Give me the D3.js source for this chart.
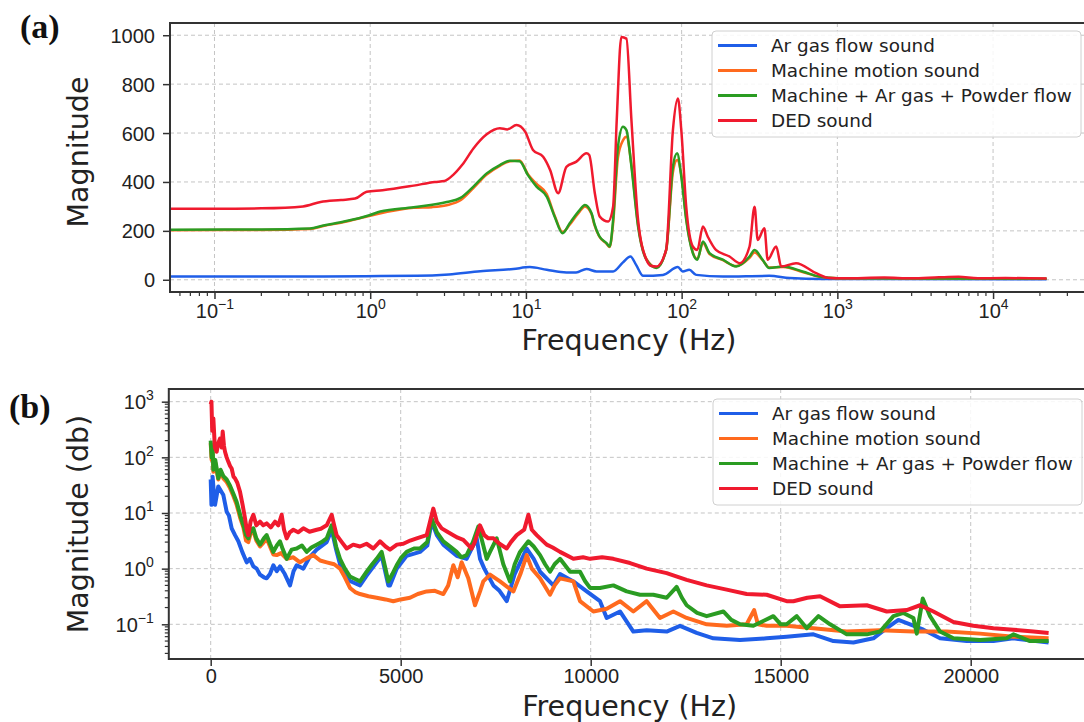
<!DOCTYPE html>
<html>
<head>
<meta charset="utf-8">
<script src="https://cdn.jsdelivr.net/npm/d3@7"></script>
<style>
  body { margin: 0; background: #fff; }
  svg { display: block; font-family: "DejaVu Sans", sans-serif; }
</style>
</head>
<body>
<div id="chart"></div>
<script>
const seriesNames = ['Ar gas flow sound', 'Machine motion sound', 'Machine + Ar gas + Powder flow', 'DED sound'];
const seriesColors = ['#1f5ee8', '#ff6a1e', '#2a9c22', '#f01a2e'];

// panel (a): [frequency Hz, magnitude]
const argasA = [[0.0518,13],[0.5,13],[1.16,15],[2,16],[3.2,22],[5.1,35],[8.3,44],[10.6,52],[13.6,41],[18.2,30],[21,30],[24.5,44],[28.4,34],[36.3,34],[42,71],[46.9,95],[51,61],[56.6,16],[75.9,20],[94.6,52],[101.6,34],[112,41],[124,20],[184,13],[365,16],[494,7],[800,3],[2000,3],[22050,2]];
const machineA = [[0.0518,203],[0.2,204],[0.41,208],[0.5,220],[0.68,236],[1.0,262],[1.9,294],[2.5,297],[3.1,305],[3.8,325],[4.6,375],[5.6,430],[6.8,466],[7.9,485],[9.1,488],[10.3,432],[11.7,392],[13.6,350],[15.3,262],[17.2,195],[19.1,225],[22.2,280],[23.9,300],[26.4,268],[27.5,225],[29.5,178],[32.9,148],[34.5,134],[36.3,230],[39,500],[42,570],[44.2,585],[47.6,470],[52.5,225],[59.4,85],[68.9,50],[79.5,120],[87.9,440],[93.5,490],[99.5,430],[107,250],[118,112],[126,85],[137,150],[151,105],[184,80],[224,56],[273,90],[294,112],[331,80],[365,50],[449,52],[597,32],[766,12],[1000,6],[2000,6],[5000,5],[22050,4]];
const mixA = [[0.0518,205],[0.2,206],[0.41,210],[0.5,222],[0.68,238],[1.0,265],[1.16,279],[1.9,297],[3.1,318],[3.8,335],[4.6,381],[5.6,435],[6.8,469],[7.9,487],[9.1,485],[10.3,428],[11.7,381],[13.6,340],[15.3,258],[17.2,190],[19.1,231],[22.2,286],[23.9,306],[26.4,272],[27.5,230],[29.5,180],[32.9,150],[34.5,136],[36.3,245],[39,544],[42,626],[44.2,612],[47.6,463],[52.5,218],[59.4,82],[68.9,48],[79.5,122],[87.9,463],[93.5,517],[99.5,422],[107,245],[118,109],[126,82],[137,156],[151,109],[184,82],[224,54],[273,95],[294,122],[331,82],[365,48],[449,54],[597,34],[766,13],[1000,6],[2000,6],[5000,5],[22050,4]];
const dedA = [[0.0518,290],[0.1,290],[0.2,292],[0.37,300],[0.48,318],[0.65,326],[0.8,332],[0.95,360],[1.2,366],[1.9,385],[2.6,400],[3.0,404],[3.4,428],[3.9,470],[4.6,537],[5.6,595],[6.8,620],[7.6,615],[8.7,633],[9.9,605],[11.1,531],[12.9,503],[14.3,449],[16.1,354],[18.2,462],[21.1,483],[24.5,517],[25.5,510],[27.7,354],[29.8,258],[33.7,238],[36.3,299],[38.3,653],[41,993],[44.2,986],[47.6,653],[52.5,245],[59.4,82],[64,56],[68.9,54],[79.5,122],[87.9,612],[94.6,741],[99.5,612],[107,299],[118,136],[126,122],[137,218],[147,177],[166,122],[203,95],[236,68],[273,136],[294,299],[308,163],[340,211],[357,82],[405,136],[436,54],[543,68],[731,27],[891,7],[1100,6],[2000,9],[3000,6],[4500,10],[6000,12],[8000,6],[12000,7],[22050,5]];

// panel (b): [frequency Hz, magnitude]
const argasB = [[0,40],[20,14],[50,45],[90,20],[114,14],[200,30],[333,21],[421,10.5],[480,9],[552,5.3],[640,4],[728,3.1],[830,2],[947,1.3],[1030,1.5],[1123,1.1],[1210,1],[1298,0.78],[1400,0.7],[1473,0.67],[1560,0.8],[1649,1.15],[1740,0.9],[1824,1.1],[1950,0.8],[2087,0.5],[2180,0.9],[2263,1.15],[2438,1.0],[2600,1.6],[2789,2.2],[3052,3],[3184,5],[3300,2.2],[3403,1.2],[3666,0.6],[3929,0.5],[4104,0.75],[4367,1.3],[4499,1.7],[4674,0.5],[4718,0.5],[4894,1],[5157,1.7],[5508,2],[5700,2.6],[5815,7],[5950,4],[6122,2.7],[6472,1.7],[6735,1.5],[7000,3.5],[7088,1.5],[7200,1.0],[7439,0.5],[7600,0.4],[7790,0.26],[8000,0.8],[8316,2.3],[8500,1.5],[8667,0.88],[9018,0.5],[9193,0.8],[9544,0.59],[9895,0.39],[10245,0.26],[10421,0.13],[10771,0.17],[11122,0.074],[11473,0.078],[11999,0.074],[12350,0.094],[12788,0.07],[13227,0.056],[13929,0.052],[14630,0.056],[15156,0.06],[15861,0.066],[16387,0.05],[16913,0.047],[17439,0.056],[17790,0.085],[18097,0.12],[18405,0.1],[18755,0.08],[19193,0.056],[19895,0.05],[20597,0.05],[21123,0.056],[22050,0.047]];
const machineB = [[0,180],[25,90],[50,130],[70,55],[120,80],[200,40],[260,55],[333,42],[420,36],[509,28],[600,20],[684,14],[780,8],[860,5.5],[930,3.2],[991,3],[1060,4.5],[1123,4.8],[1200,3.2],[1298,2.5],[1400,3],[1473,3.5],[1560,2.5],[1649,1.8],[1736,1.75],[1850,1.9],[2000,1.5],[2175,1.6],[2350,1.3],[2500,1.5],[2701,1.75],[2880,1.4],[3052,1.3],[3250,1.2],[3403,1.0],[3530,0.7],[3666,0.45],[3800,0.38],[3929,0.35],[4150,0.32],[4367,0.3],[4600,0.28],[4806,0.26],[5000,0.28],[5245,0.3],[5450,0.35],[5683,0.39],[5900,0.4],[6122,0.35],[6250,0.5],[6385,1.15],[6500,0.7],[6604,1.3],[6779,0.67],[6955,0.22],[7088,0.39],[7174,0.59],[7351,0.78],[7614,0.59],[7965,0.39],[8150,0.8],[8316,1.75],[8450,1.0],[8667,0.67],[8930,0.34],[9050,0.5],[9193,0.67],[9544,0.59],[9719,0.26],[10070,0.17],[10421,0.19],[10771,0.26],[11122,0.17],[11473,0.26],[11824,0.13],[12175,0.17],[12525,0.13],[13052,0.1],[13578,0.094],[14104,0.1],[14300,0.18],[14400,0.1],[14630,0.094],[15156,0.094],[15861,0.085],[16738,0.074],[17615,0.078],[18492,0.074],[19369,0.074],[20246,0.068],[21123,0.06],[22050,0.056]];
const mixB = [[0,200],[25,100],[50,150],[70,60],[120,90],[200,42],[260,60],[333,46],[420,40],[509,31],[600,22],[684,15.8],[780,9],[860,6],[930,4],[991,3.5],[1060,5],[1123,5.3],[1200,3.5],[1298,2.7],[1400,3.5],[1473,4],[1560,2.8],[1649,2],[1740,2.6],[1824,3.1],[1900,2.2],[2000,1.5],[2130,2.2],[2263,2.3],[2400,2.6],[2526,2],[2650,2.4],[2789,2.7],[2920,3],[3052,3.5],[3184,6],[3300,2.5],[3403,1.5],[3530,1],[3666,0.72],[3800,0.65],[3929,0.59],[4104,0.88],[4250,1.2],[4367,1.5],[4499,2],[4600,1],[4674,0.59],[4780,0.8],[4894,1.15],[5020,1.6],[5157,2],[5350,2.3],[5508,2.3],[5700,3],[5815,8],[5950,4.5],[6122,3.1],[6300,2.5],[6472,2],[6600,1.6],[6735,1.75],[6900,3],[7042,5.7],[7150,3],[7263,1.5],[7350,2],[7527,3.5],[7700,1.2],[7877,0.59],[8000,1.2],[8140,2],[8360,3.1],[8500,2.5],[8667,1.75],[8800,1.2],[8930,0.88],[9050,1.2],[9193,1.5],[9456,0.88],[9719,0.88],[9850,0.6],[9982,0.45],[10245,0.45],[10596,0.5],[10947,0.39],[11297,0.34],[11648,0.34],[11999,0.3],[12262,0.47],[12400,0.3],[12525,0.22],[12800,0.16],[13052,0.14],[13490,0.17],[13700,0.12],[13929,0.1],[14280,0.094],[14806,0.14],[15000,0.1],[15156,0.1],[15423,0.14],[15686,0.085],[15993,0.14],[16300,0.1],[16738,0.066],[17264,0.066],[17615,0.074],[17966,0.14],[18229,0.16],[18492,0.13],[18580,0.068],[18738,0.29],[18930,0.14],[19193,0.074],[19544,0.056],[20246,0.052],[20947,0.056],[21123,0.066],[21561,0.05],[22050,0.05]];
const dedB = [[0,900],[20,1000],[40,300],[70,500],[110,150],[158,126],[200,180],[246,218],[290,150],[316,290],[350,160],[377,126],[420,100],[465,83],[510,70],[552,63],[600,45],[640,42],[700,35],[772,24],[840,14],[903,8],[950,5],[991,4],[1050,7],[1123,9.3],[1200,6],[1298,7],[1380,6],[1473,6.5],[1580,5.5],[1693,7],[1780,6],[1868,9.3],[1930,5],[2000,3.5],[2080,4.5],[2175,5],[2300,4.5],[2438,5.3],[2600,4.6],[2789,5],[2900,5.2],[3052,6],[3184,9.3],[3250,6],[3315,4],[3450,3],[3578,2.3],[3750,2.7],[3929,2.5],[4100,2.8],[4280,2.3],[4455,3.1],[4600,2.5],[4718,2.2],[4900,2.7],[5069,2.8],[5250,3.2],[5420,3.5],[5683,4],[5858,12],[5950,7],[6078,5.3],[6250,4.5],[6385,4],[6500,3.6],[6648,3.3],[6867,2.3],[6950,3],[7086,6],[7200,4],[7305,3.5],[7439,3.5],[7600,2.8],[7790,2.3],[7900,3],[8053,4],[8250,5],[8360,9.3],[8450,5],[8579,4],[8842,2.7],[9000,2.4],[9193,2],[9544,1.5],[9800,1.6],[9982,1.5],[10300,1.6],[10596,1.5],[11035,1.26],[11473,1.0],[11999,0.83],[12525,0.63],[13052,0.5],[13578,0.42],[14104,0.35],[14630,0.34],[15156,0.26],[15335,0.26],[15700,0.3],[16036,0.32],[16563,0.21],[17264,0.22],[17790,0.17],[18317,0.18],[18668,0.22],[19018,0.17],[19544,0.11],[20070,0.094],[20597,0.085],[21123,0.08],[21649,0.074],[22050,0.07]];

const xTicksA = [0.1, 1, 10, 100, 1000, 10000];
const yTicksA = [0, 200, 400, 600, 800, 1000];
const xTicksB = [0, 5000, 10000, 15000, 20000];
const yTicksB = [0.1, 1, 10, 100, 1000];

const W = 1084, H = 722;
const svg = d3.select('#chart').append('svg').attr('width', W).attr('height', H);

const tickFont = 20, labelFont = 28.5, legendFont = 18.4;
const axisColor = '#333', textColor = '#222';

// power-of-ten label: "10" with superscript exponent
function powLabel(sel, v) {
    const e = Math.round(Math.log10(v));
    sel.text('10');
    sel.append('tspan').attr('font-size', 14).attr('dy', -9)
        .text(e < 0 ? '\u2212' + (-e) : e);
}

function minorLogValues(domain) {
    const out = [];
    for (let d = -3; d <= 5; d++) {
        for (let m = 2; m <= 9; m++) {
            const v = m * Math.pow(10, d);
            if (v > domain[0] && v < domain[1]) out.push(v);
        }
    }
    return out;
}

function drawPanel(p) {
    const { x, y, id } = p;
    const [x0, x1] = x.range();
    const [y1, y0] = y.range();
    const g = svg.append('g');

    g.append('clipPath').attr('id', id)
        .append('rect').attr('x', x0).attr('y', y0).attr('width', x1 - x0).attr('height', y1 - y0);

    // grid
    g.append('g').selectAll('line').data(p.xTicks).enter().append('line')
        .attr('x1', d => x(d)).attr('x2', d => x(d)).attr('y1', y0).attr('y2', y1)
        .attr('stroke', '#c4c4c4').attr('stroke-width', 1).attr('stroke-dasharray', '4,3');
    g.append('g').selectAll('line').data(p.yTicks).enter().append('line')
        .attr('x1', x0).attr('x2', x1).attr('y1', d => y(d)).attr('y2', d => y(d))
        .attr('stroke', '#c4c4c4').attr('stroke-width', 1).attr('stroke-dasharray', '4,3');

    // lines
    const line = d3.line().x(d => x(d[0])).y(d => y(d[1])).curve(p.curve);
    const lines = g.append('g').attr('clip-path', `url(#${id})`);
    p.series.forEach((s, i) => {
        lines.append('path').datum(s)
            .attr('d', line)
            .attr('fill', 'none')
            .attr('stroke', seriesColors[i])
            .attr('stroke-width', p.lineWidth)
            .attr('stroke-linejoin', 'round');
    });

    // axes
    const xAxis = d3.axisBottom(x).tickValues(p.xTicks).tickSize(7).tickSizeOuter(0).tickFormat('');
    const yAxis = d3.axisLeft(y).tickValues(p.yTicks).tickSize(7).tickSizeOuter(0).tickFormat('');
    const gx = g.append('g').attr('transform', `translate(0,${y1})`).call(xAxis);
    const gy = g.append('g').attr('transform', `translate(${x0},0)`).call(yAxis);
    [gx, gy].forEach(a => {
        a.select('.domain').remove();
        a.selectAll('.tick line').attr('stroke', axisColor).attr('stroke-width', 1.5);
    });

    if (p.xMinor) {
        gx.selectAll('.minor').data(minorLogValues(x.domain())).enter().append('line')
            .attr('x1', d => x(d)).attr('x2', d => x(d)).attr('y1', 0).attr('y2', 4)
            .attr('stroke', axisColor).attr('stroke-width', 1.2);
    }
    if (p.yMinor) {
        gy.selectAll('.minor').data(minorLogValues(y.domain())).enter().append('line')
            .attr('y1', d => y(d)).attr('y2', d => y(d)).attr('x1', 0).attr('x2', -4)
            .attr('stroke', axisColor).attr('stroke-width', 1.2);
    }

    // tick labels
    gx.selectAll('.tick').each(function (d) {
        const t = d3.select(this).append('text')
            .attr('x', 0).attr('y', p.xLabelY)
            .attr('text-anchor', 'middle')
            .attr('font-size', tickFont).attr('fill', textColor);
        if (p.xPow) powLabel(t, d); else t.text(d);
    });
    gy.selectAll('.tick').each(function (d) {
        const t = d3.select(this).append('text')
            .attr('x', -15).attr('y', 7)
            .attr('text-anchor', 'end')
            .attr('font-size', tickFont).attr('fill', textColor);
        if (p.yPow) powLabel(t, d); else t.text(d);
    });

    // frame
    g.append('rect').attr('x', x0).attr('y', y0).attr('width', x1 - x0).attr('height', y1 - y0)
        .attr('fill', 'none').attr('stroke', axisColor).attr('stroke-width', 2);

    // axis titles
    g.append('text').attr('x', (x0 + x1) / 2).attr('y', p.xTitleY)
        .attr('text-anchor', 'middle').attr('font-size', labelFont).attr('fill', textColor)
        .text('Frequency (Hz)');
    g.append('text')
        .attr('transform', `translate(88,${p.yTitleCY}) rotate(-90)`)
        .attr('text-anchor', 'middle').attr('font-size', labelFont).attr('fill', textColor)
        .text(p.yTitle);

    // legend
    const lg = g.append('g').attr('transform', `translate(${p.legend[0]},${p.legend[1]})`);
    lg.append('rect').attr('x', 0).attr('y', 0).attr('width', 369).attr('height', 106)
        .attr('rx', 4).attr('fill', '#fff').attr('fill-opacity', 0.85)
        .attr('stroke', '#d0d0d0').attr('stroke-width', 1);
    seriesNames.forEach((n, i) => {
        const cy = 14.5 + i * 25;
        lg.append('line').attr('x1', 6).attr('x2', 45).attr('y1', cy).attr('y2', cy)
            .attr('stroke', seriesColors[i]).attr('stroke-width', 3);
        lg.append('text').attr('x', 59).attr('y', cy + 6.5)
            .attr('font-size', legendFont).attr('fill', textColor).text(n);
    });

    // panel letter
    svg.append('text').attr('x', p.letter[0]).attr('y', p.letter[1])
        .attr('font-family', '"Liberation Serif", "DejaVu Serif", serif')
        .attr('font-weight', 'bold').attr('font-size', 34).attr('fill', '#111')
        .text(p.letterText);
}

drawPanel({
    id: 'clipA',
    x: d3.scaleLog().domain([0.0518, 40700]).range([170, 1088]),
    y: d3.scaleLinear().domain([-50, 1050]).range([292, 23]),
    xTicks: xTicksA, yTicks: yTicksA,
    xPow: true, yPow: false, xMinor: true, yMinor: false,
    series: [argasA, machineA, mixA, dedA],
    lineWidth: 2.5, curve: d3.curveMonotoneX,
    xLabelY: 26, xTitleY: 350,
    yTitle: 'Magnitude', yTitleCY: 152,
    legend: [712, 31],
    letter: [20, 38], letterText: '(a)'
});

drawPanel({
    id: 'clipB',
    x: d3.scaleLinear().domain([-1102.5, 23152.5]).range([168.8, 1090.5]),
    y: d3.scaleLog().domain([0.0238, 1690]).range([659, 389]),
    xTicks: xTicksB, yTicks: yTicksB,
    xPow: false, yPow: true, xMinor: false, yMinor: true,
    series: [argasB, machineB, mixB, dedB],
    lineWidth: 4, curve: d3.curveLinear,
    xLabelY: 24, xTitleY: 716,
    yTitle: 'Magnitude (db)', yTitleCY: 524,
    legend: [713, 399],
    letter: [9, 418], letterText: '(b)'
});
</script>
</body>
</html>
